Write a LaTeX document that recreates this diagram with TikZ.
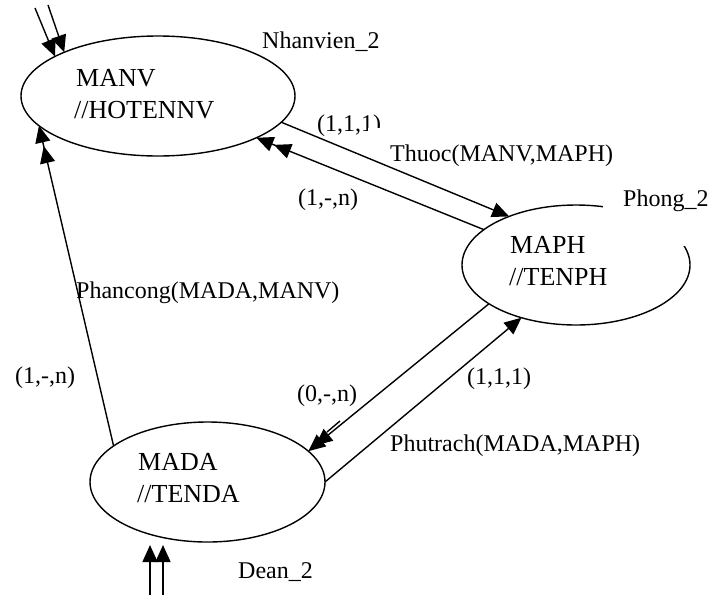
\documentclass[tikz,border=0pt]{standalone}
\usepackage{fontspec}
\setmainfont{Liberation Serif}
\usetikzlibrary{arrows.meta,shapes.geometric}
\begin{document}
\begin{tikzpicture}[x=1pt,y=-1pt,
  ent/.style={draw, ellipse, line width=1.4pt, inner sep=0pt, outer sep=0pt, minimum height=120pt},
  txt/.style={anchor=base west, inner sep=0pt, font=\fontsize{24}{28}\selectfont},
  big/.style={txt, font=\fontsize{26}{30}\selectfont},
  link/.style={line width=1.4pt},
  one/.style={-{Triangle[length=17pt,width=15pt]}},
  two/.style={-{Triangle[length=17pt,width=15pt,sep=#1]Triangle[length=17pt,width=15pt]}},
  two/.default=2pt
]
\useasboundingbox (0,0) rectangle (719,595);

% entities
\node[ent, minimum width=274pt] (nv) at (158,96) {};
\node[ent, minimum width=228pt] (ph) at (576,265) {};
\node[ent, minimum width=235pt] (dn) at (207.5,482) {};

% opening in the Phong ellipse under its name
\fill[white] (603,175) rectangle (719,246);

% entity contents
\node[big] (nvk) at (76,86) {MANV};
\node[big] (nva) at (74,118) {//HOTENNV};
\node[big] (phk) at (510,253) {MAPH};
\node[big] (pha) at (509,285) {//TENPH};
\node[big] (dnk) at (138,470) {MADA};
\node[big] (dna) at (137,502) {//TENDA};

% entity names
\node[txt] (nvn) at (262,48) {Nhanvien\_2};
\node[txt] (phn) at (623,206) {Phong\_2};
\node[txt] (dnn) at (238,578) {Dean\_2};

% cardinalities and relation names
\node[txt] (c1) at (317,131) {(1,1,1)};
\fill[white] (368,128) rectangle (394,142);
\node[txt] (thl) at (390,161) {Thuoc(MANV,MAPH)};
\node[txt] (c2) at (298,205) {(1,-,n)};
\node[txt] (pcl) at (76,298) {Phancong(MADA,MANV)};
\node[txt] (c3) at (15,383) {(1,-,n)};
\node[txt] (c4) at (297,401) {(0,-,n)};
\node[txt] (c5) at (467,384) {(1,1,1)};
\node[txt] (ptl) at (390,451) {Phutrach(MADA,MAPH)};

% entry points
\coordinate (t1) at (35,8);
\coordinate (t2) at (48,5);
\coordinate (b1) at (150,595);
\coordinate (b2) at (163,595);

\draw[link, one] (t1) -- (nv.159);
\draw[link, one] (t2) -- (nv.155);
\draw[link, one, shorten >=3pt] (b1) -- (b1 |- dn.south);
\draw[link, one, shorten >=3pt] (b2) -- (b2 |- dn.south);

% relations
\draw[link, one] (nv.-12) -- (ph.144);
\draw[link, two] (ph.159) -- (nv.-23);
\draw[link, two=4pt] (dn.159) -- (nv.-166);
\draw[link, two=-8pt] (ph.-156) -- (dn.17);
\draw[link] (340,421) -- (327,432);
\draw[link, one] (dn.0) -- (ph.-136);
\end{tikzpicture}
\end{document}
